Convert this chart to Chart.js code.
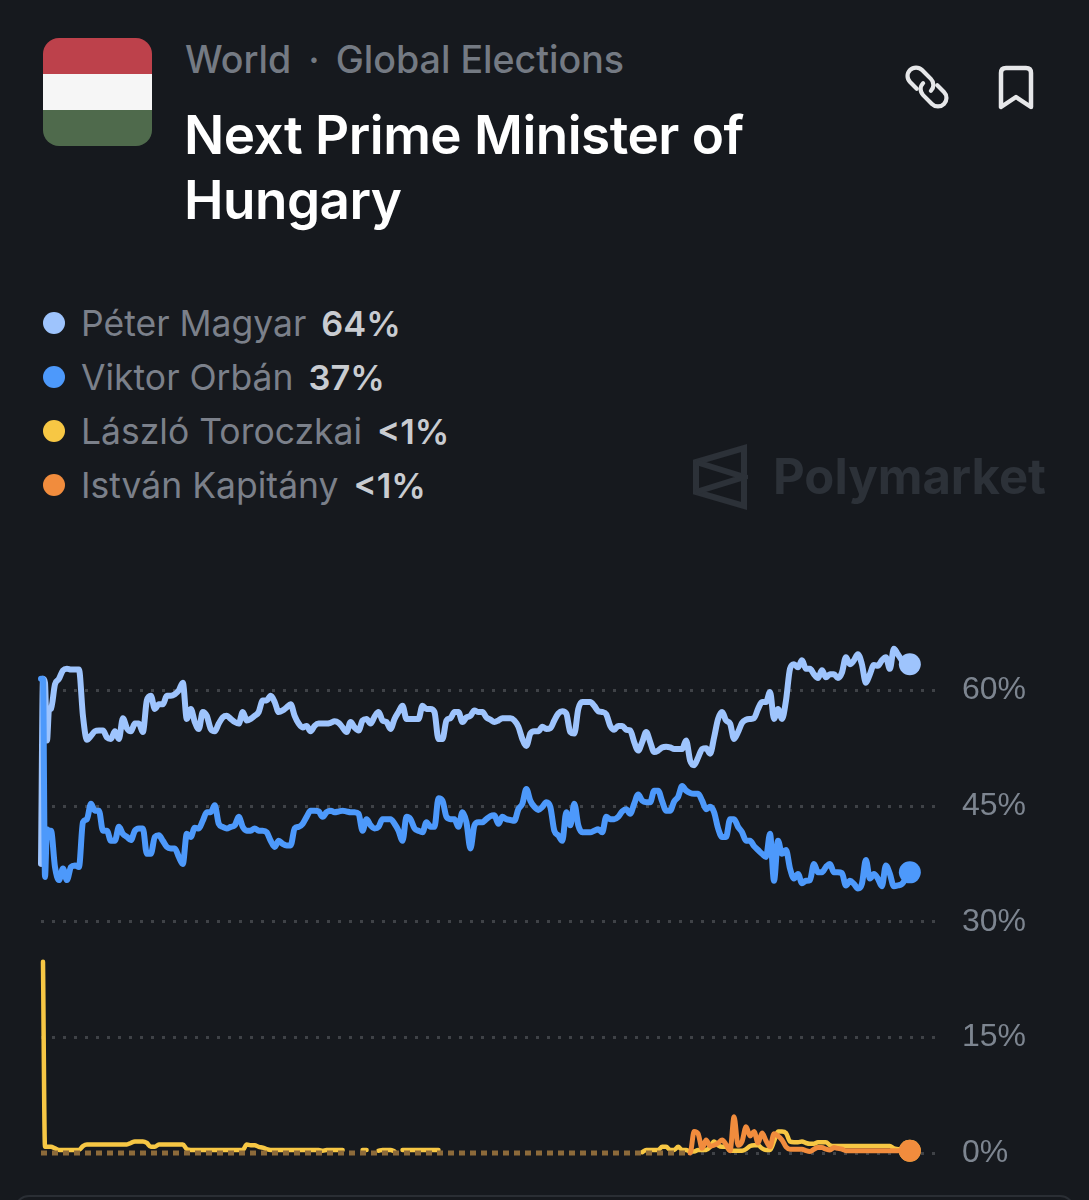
<!DOCTYPE html>
<html>
<head>
<meta charset="utf-8">
<title>Next Prime Minister of Hungary</title>
<script src="https://cdn.jsdelivr.net/npm/chart.js@4"></script>
<style>
html, body { margin: 0; padding: 0; background: #16191e; }
body { width: 1089px; height: 1200px; position: relative; overflow: hidden; font-family: Inter, sans-serif; }
#chart { position: absolute; left: 0; top: 600px; }
.abs { position: absolute; white-space: nowrap; }
#flag { left: 43px; top: 38px; width: 109px; height: 108px; border-radius: 16px; overflow: hidden; }
#flag div { height: 36px; }
#crumb { left: 185px; top: 38px; font-size: 37.6px; line-height: 44px; color: #747a83; font-weight: 500; }
#crumb span { margin: 0 16px 0 17px; }
#title { left: 184px; top: 103px; font-size: 53px; line-height: 65px; color: #fff; font-weight: 600; letter-spacing: -0.5px; }
#legend { left: 43px; top: 296px; }
.row { height: 54px; display: flex; align-items: center; font-size: 35.5px; color: #7b808a; }
.dot { width: 22px; height: 22px; border-radius: 50%; margin-right: 16px; }
.pct { color: #c9ccd1; font-size: 34.4px; font-weight: 600; margin-left: 15px; }
#mark { left: 773px; top: 446px; font-size: 49px; line-height: 62px; font-weight: 700; color: #2c3138; }
#edge { left: 14px; top: 1195px; width: 1061px; height: 30px; border: 2px solid #2a2e34; border-radius: 18px; box-sizing: border-box; }
</style>
</head>
<body>
<div class="abs" id="flag">
  <div style="background:#bd414b"></div>
  <div style="background:#f6f6f6"></div>
  <div style="background:#4f6a4c"></div>
</div>
<div class="abs" id="crumb">World<span>·</span>Global Elections</div>
<div class="abs" id="title">Next Prime Minister of<br>Hungary</div>

<svg class="abs" style="left:902px;top:62px" width="50" height="50" viewBox="-25 -25 50 50" fill="none" stroke="#e6e7e9" stroke-width="4.2" stroke-linecap="round">
  <g transform="rotate(45)">
    <path d="M-6 8.5 H-15.5 A8.5 8.5 0 0 1 -15.5 -8.5 H-3 A8.5 8.5 0 0 1 5.5 0"/>
    <path d="M6 -8.5 H15.5 A8.5 8.5 0 0 1 15.5 8.5 H3 A8.5 8.5 0 0 1 -5.5 0"/>
  </g>
</svg>
<svg class="abs" style="left:997px;top:65px" width="38" height="46" viewBox="0 0 38 46" fill="none" stroke="#e6e7e9" stroke-width="4.5" stroke-linejoin="round">
  <path d="M4 8 Q4 3 9 3 H29 Q34 3 34 8 V42 L19 32 L4 42 Z"/>
</svg>

<div class="abs" id="legend"></div>

<svg class="abs" style="left:692px;top:444px" width="56" height="66" viewBox="0 0 56 66" fill="none" stroke="#2c3138" stroke-width="6" stroke-linejoin="miter">
  <path d="M52 4 V62 L4 48 V18 Z"/>
  <path d="M4 18 L52 33 L4 48"/>
</svg>
<div class="abs" id="mark">Polymarket</div>
<div class="abs" id="edge"></div>

<canvas id="chart" width="1089" height="580"></canvas>

<script>
const candidates = ['Péter Magyar', 'Viktor Orbán', 'László Toroczkai', 'István Kapitány']
const oddsLabels = ['64%', '37%', '<1%', '<1%']
const colours = ['#9ec4fd', '#4d99fb', '#f7c744', '#f18c3d']
const yTicks = [0, 15, 30, 45, 60]

const steps = [-0.5, 0, 0.5, 1, 1.5]
for (let k = 2; k <= 217; k++) steps.push(k)

const magyar = [
  37.5, 61.5, 61.0, 53.5, 57.4,
  57.6, 60.8, 61.5, 62.6, 62.8, 62.7, 62.7, 62.7, 56.7, 53.6,
  54.1, 54.7, 54.8, 54.8, 53.9, 53.7, 54.7, 53.7, 56.4, 55.1,
  54.7, 55.7, 55.7, 54.6, 58.7, 59.3, 57.6, 58.2, 58.2, 59.3,
  59.3, 59.5, 60.0, 61.0, 56.3, 57.6, 55.9, 55.0, 57.2, 56.7,
  55.0, 54.7, 55.7, 56.5, 56.7, 56.3, 55.9, 55.7, 57.2, 56.1,
  56.3, 56.7, 57.2, 58.7, 58.7, 59.3, 58.5, 57.2, 57.4, 57.8,
  58.2, 56.7, 55.7, 55.2, 55.4, 54.7, 55.4, 55.7, 55.7, 55.7,
  55.8, 56.0, 55.8, 55.2, 54.6, 55.9, 55.2, 54.8, 56.1, 56.3,
  55.7, 56.6, 57.2, 56.1, 55.9, 55.0, 56.3, 57.2, 58.0, 56.3,
  56.3, 56.3, 56.3, 58.0, 57.6, 57.6, 57.2, 53.7, 53.7, 56.1,
  56.4, 57.2, 57.2, 55.9, 56.5, 56.7, 57.4, 57.2, 57.2, 56.5,
  56.2, 55.9, 56.1, 56.4, 56.4, 56.4, 56.1, 55.3, 53.7, 52.8,
  54.4, 54.7, 54.7, 55.3, 55.0, 55.1, 56.1, 57.0, 57.3, 57.0,
  54.6, 54.4, 57.6, 58.5, 58.5, 58.5, 58.0, 57.3, 57.2, 56.9,
  55.4, 54.9, 55.4, 55.4, 54.9, 54.8, 53.3, 52.2, 53.3, 54.6,
  53.3, 52.0, 52.2, 52.6, 52.7, 52.6, 52.4, 52.4, 52.4, 53.5,
  50.9, 50.3, 51.3, 52.4, 52.5, 51.8, 53.9, 56.3, 57.2, 56.1,
  55.7, 53.7, 54.6, 55.8, 56.2, 56.3, 56.4, 57.6, 58.5, 58.5,
  59.8, 56.3, 57.6, 56.3, 58.7, 62.8, 63.4, 63.0, 63.9, 62.8,
  62.8, 62.1, 61.6, 62.6, 61.7, 62.1, 62.1, 61.6, 62.3, 64.3,
  63.4, 63.9, 64.7, 63.4, 61.0, 62.1, 63.3, 63.2, 63.9, 64.3,
  62.8, 65.4, 64.7, 63.9, 63.4, 63.4
]

const orban = [
  61.5, 61.5, 35.8, 42.0, 41.8,
  41.8, 37.1, 35.4, 36.9, 35.4, 37.1, 37.3, 37.1, 42.9, 43.3,
  45.3, 44.4, 44.4, 41.8, 41.8, 40.5, 40.5, 42.3, 41.4, 41.0,
  40.6, 41.8, 42.1, 42.1, 38.8, 38.8, 41.0, 41.2, 40.5, 39.7,
  39.5, 39.5, 38.4, 37.5, 41.4, 41.0, 42.2, 42.1, 43.1, 44.2,
  44.2, 45.1, 42.7, 42.3, 42.1, 42.3, 42.5, 43.6, 42.3, 41.8,
  41.8, 42.1, 41.8, 41.8, 41.6, 40.5, 39.7, 40.5, 40.1, 39.9,
  39.9, 42.1, 42.3, 42.7, 43.6, 44.4, 44.4, 44.3, 43.6, 44.2,
  44.4, 44.2, 44.3, 44.4, 44.3, 44.2, 44.2, 44.0, 41.8, 43.3,
  42.5, 42.1, 42.3, 43.3, 43.3, 43.3, 42.7, 41.8, 40.5, 43.6,
  43.3, 42.1, 41.8, 41.6, 42.9, 42.3, 42.3, 46.0, 45.7, 43.6,
  43.3, 43.3, 42.3, 44.2, 42.9, 39.5, 42.5, 42.9, 42.9, 43.3,
  43.7, 43.8, 42.7, 43.6, 43.3, 43.2, 43.1, 44.6, 45.3, 47.2,
  45.7, 44.9, 44.5, 44.9, 45.5, 44.9, 41.8, 41.2, 40.5, 44.2,
  42.5, 45.3, 42.5, 41.6, 41.6, 41.6, 41.8, 42.0, 41.6, 43.6,
  43.3, 43.3, 43.6, 44.3, 44.6, 44.0, 45.3, 46.5, 45.7, 45.5,
  45.5, 47.0, 47.0, 45.6, 44.4, 44.4, 45.6, 46.2, 47.6, 47.0,
  46.7, 46.6, 46.6, 45.7, 44.6, 44.9, 44.2, 42.1, 41.0, 41.0,
  43.3, 43.3, 42.3, 41.6, 40.5, 40.5, 39.8, 39.3, 38.8, 38.4,
  41.4, 35.3, 40.5, 38.8, 39.3, 36.9, 35.6, 36.2, 35.0, 35.3,
  35.4, 37.5, 36.4, 36.4, 37.1, 37.5, 36.4, 36.4, 36.3, 34.7,
  35.3, 34.9, 34.3, 34.9, 38.0, 35.6, 36.2, 35.6, 34.6, 37.3,
  36.2, 34.6, 34.7, 34.9, 35.6, 36.4
]

const toroczkai = [
  null, 24.8, 0.8, 0.8, 0.8,
  0.8, 0.6, 0.4, 0.4, 0.4, 0.4, 0.4, 0.4, 0.9, 1.1,
  1.1, 1.1, 1.1, 1.1, 1.1, 1.1, 1.1, 1.1, 1.1, 1.1,
  1.3, 1.5, 1.5, 1.5, 1.3, 0.8, 0.8, 1.1, 1.1, 1.1,
  1.1, 1.1, 1.1, 1.1, 0.5, 0.4, 0.4, 0.4, 0.4, 0.4,
  0.4, 0.4, 0.4, 0.4, 0.4, 0.4, 0.4, 0.4, 0.4, 1.1,
  1.0, 1.0, 0.8, 0.7, 0.5, 0.4, 0.4, 0.4, 0.4, 0.4,
  0.4, 0.4, 0.4, 0.4, 0.4, 0.4, 0.4, 0.4, 0.3, 0.4,
  0.4, 0.4, 0.4, 0.4, null, null, null, null, 0.4, 0.4,
  null, null, 0.3, 0.4, 0.4, 0.4, 0.2, null, 0.4, 0.4,
  0.4, 0.4, 0.4, 0.4, 0.4, 0.4, 0.4, 0.4, null, null,
  null, null, null, null, null, null, null, null, null, null,
  null, null, null, null, null, null, null, null, null, null,
  null, null, null, null, null, null, null, null, null, null,
  null, null, null, null, null, null, null, null, null, null,
  null, null, null, null, null, null, null, null, 0.1, 0.4,
  0.4, 0.4, 0.4, 0.8, 0.8, 0.4, 0.4, 0.8, 0.4, 0.4,
  0.2, 0.2, 0.4, 0.4, 0.4, 0.8, 1.5, 1.0, 0.8, 0.8,
  0.3, 0.3, 0.3, 0.3, 0.5, 0.9, 1.0, 1.0, 0.6, 0.4,
  0.4, 1.5, 2.8, 2.8, 2.6, 1.5, 1.4, 1.4, 1.5, 1.3,
  1.2, 1.2, 1.4, 1.4, 1.4, 1.0, 0.9, 0.9, 0.9, 0.9,
  0.9, 0.9, 0.9, 0.9, 0.9, 0.9, 0.9, 0.9, 0.9, 0.9,
  0.9, 0.6, 0.5, 0.4, 0.3, 0.3
]

const kapitany = [
  0, 0, 0, 0, 0,
  0, 0, 0, 0, 0, 0, 0, 0, 0, 0,
  0, 0, 0, 0, 0, 0, 0, 0, 0, 0,
  0, 0, 0, 0, 0, 0, 0, 0, 0, 0,
  0, 0, 0, 0, 0, 0, 0, 0, 0, 0,
  0, 0, 0, 0, 0, 0, 0, 0, 0, 0,
  0, 0, 0, 0, 0, 0, 0, 0, 0, 0,
  0, 0, 0, 0, 0, 0, 0, 0, 0, 0,
  0, 0, 0, 0, 0, 0, 0, 0, 0, 0,
  0, 0, 0, 0, 0, 0, 0, 0, 0, 0,
  0, 0, 0, 0, 0, 0, 0, 0, 0, 0,
  0, 0, 0, 0, 0, 0, 0, 0, 0, 0,
  0, 0, 0, 0, 0, 0, 0, 0, 0, 0,
  0, 0, 0, 0, 0, 0, 0, 0, 0, 0,
  0, 0, 0, 0, 0, 0, 0, 0, 0, 0,
  0, 0, 0, 0, 0, 0, 0, 0, 0, 0,
  0, 0, 0, 0, 0, 0, 0, 0, 0, 0,
  0, 2.8, 2.5, 0.6, 1.7, 0.9, 1.0, 1.3, 1.7, 1.1,
  0.3, 4.7, 1.0, 1.5, 3.4, 2.2, 2.8, 1.3, 2.6, 1.6,
  0.8, 2.5, 2.2, 1.7, 0.8, 0.5, 0.5, 0.5, 0.5, 0.3,
  0.2, 0.5, 0.7, 0.7, 0.5, 0.4, 0.7, 0.6, 0.5, 0.3,
  0.3, 0.3, 0.3, 0.3, 0.3, 0.3, 0.3, 0.3, 0.3, 0.3,
  0.3, 0.3, 0.3, 0.3, 0.3, 0.3
]

// legend is plain html, same look as the site
const legend = document.getElementById('legend')
candidates.forEach((name, i) => {
    let row = document.createElement('div')
    row.className = 'row'
    let dot = document.createElement('span')
    dot.className = 'dot'
    dot.style.background = colours[i]
    let label = document.createElement('span')
    label.textContent = name
    let pct = document.createElement('span')
    pct.className = 'pct'
    pct.textContent = oddsLabels[i]
    row.append(dot, label, pct)
    legend.appendChild(row)
})

function seriesConfig(values, i, width, order) {
    return {
        label: candidates[i],
        data: steps.map((t, n) => ({ x: t, y: values[n] })),
        borderColor: colours[i],
        backgroundColor: colours[i],
        borderWidth: width,
        borderJoinStyle: 'round',
        borderCapStyle: 'round',
        cubicInterpolationMode: 'monotone',
        order: order,
        clip: false,
        // only the last point gets the big dot
        pointRadius: (ctx) => ctx.dataIndex === steps.length - 1 ? 11 : 0,
        pointBorderWidth: 0,
        pointHoverRadius: 0
    }
}

const kapitanyLine = seriesConfig(kapitany, 3, 5, 1)
// flat part at zero shows up brown and broken up in the original
kapitanyLine.segment = {
    borderColor: (ctx) => ctx.p1.parsed.x <= 162 ? '#8c6a3a' : undefined,
    borderDash: (ctx) => ctx.p1.parsed.x <= 162 ? [6, 5] : undefined,
    borderCapStyle: (ctx) => ctx.p1.parsed.x <= 162 ? 'butt' : undefined
}

const config = {
    type: 'line',
    data: {
        datasets: [
            seriesConfig(magyar, 0, 6, 4),
            seriesConfig(orban, 1, 6, 3),
            seriesConfig(toroczkai, 2, 4.5, 2),
            kapitanyLine
        ]
    },
    options: {
        responsive: false,
        animation: false,
        spanGaps: false,
        layout: { padding: { left: 41, top: 0, right: 0, bottom: 27 } },
        plugins: { legend: { display: false }, tooltip: { enabled: false } },
        scales: {
            x: { type: 'linear', display: false, min: -0.5, max: 223.3 },
            y: {
                position: 'right',
                min: 0,
                max: 70.3,
                afterBuildTicks: (axis) => { axis.ticks = yTicks.map((v) => ({ value: v })) },
                afterFit: (axis) => {
                    axis.width = 154
                    axis.paddingTop = 0
                    axis.paddingBottom = 0
                },
                border: { display: false, dash: [3, 8] },
                grid: { color: '#3f4247', lineWidth: 3, drawTicks: false },
                ticks: {
                    padding: 27,
                    color: '#7d8590',
                    font: { family: 'Liberation Sans', size: 32 },
                    callback: (v) => v + '%'
                }
            }
        }
    }
}

new Chart(document.getElementById('chart').getContext('2d'), config)
</script>
</body>
</html>
